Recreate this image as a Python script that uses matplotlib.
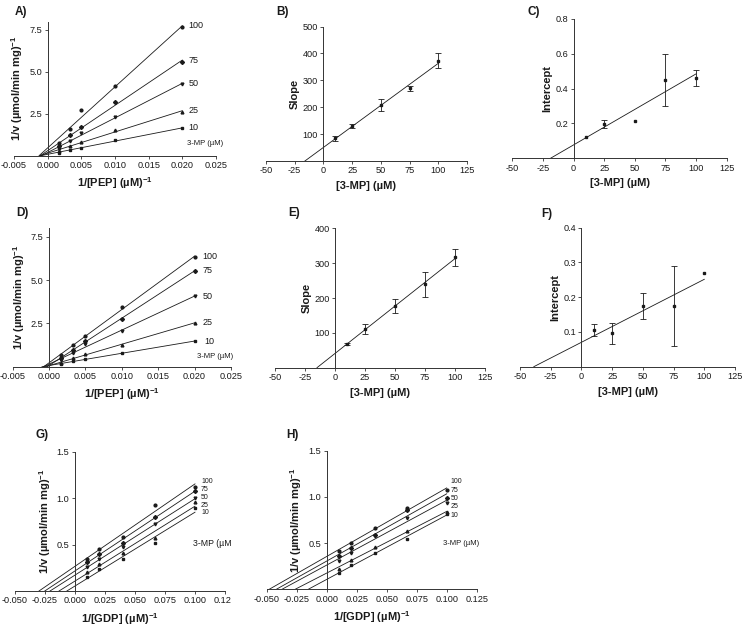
import numpy as np
import matplotlib.pyplot as plt
from matplotlib.transforms import Bbox, TransformedBbox

plt.rcParams['font.family'] = ['Liberation Sans', 'DejaVu Sans']
plt.rcParams['mathtext.fontset'] = 'custom'
plt.rcParams['mathtext.rm'] = 'Liberation Sans'
plt.rcParams['mathtext.bf'] = 'Liberation Sans:bold'
plt.rcParams['mathtext.it'] = 'Liberation Sans:italic'

# 3-MP concentrations (uM), top line first
mp_labels = ['100', '75', '50', '25', '10']
mp_x = [10, 25, 50, 75, 100]

# 1/[PEP] and 1/[GDP] (uM^-1)
pep_x = [1 / 600, 1 / 300, 1 / 200, 1 / 100, 1 / 50]
gdp_x = [1 / 100, 1 / 50, 1 / 25, 1 / 15, 1 / 10]

# panel A: 1/v rows for 100, 75, 50, 25, 10 uM 3-MP
inv_v_a = [[0.78, 1.57, 2.72, 4.18, 7.65],
           [0.58, 1.24, 1.69, 3.19, 5.61],
           [0.42, 0.88, 1.34, 2.29, 4.28],
           [0.28, 0.58, 0.80, 1.53, 2.63],
           [0.18, 0.34, 0.48, 0.94, 1.63]]

# panel D
inv_v_d = [[0.66, 1.25, 1.78, 3.43, 6.32],
           [0.52, 0.95, 1.50, 2.77, 5.54],
           [0.39, 0.78, 1.32, 2.04, 4.08],
           [0.23, 0.48, 0.75, 1.25, 2.54],
           [0.16, 0.33, 0.43, 0.77, 1.48]]

# panel G
inv_v_g = [[0.345, 0.455, 0.580, 0.930, 1.120],
           [0.317, 0.395, 0.522, 0.800, 1.080],
           [0.260, 0.345, 0.478, 0.720, 1.000],
           [0.205, 0.290, 0.414, 0.575, 0.960],
           [0.155, 0.235, 0.345, 0.520, 0.895]]

# panel H
inv_v_h = [[0.414, 0.500, 0.664, 0.879, 1.075],
           [0.357, 0.450, 0.593, 0.857, 0.993],
           [0.304, 0.393, 0.575, 0.771, 0.929],
           [0.225, 0.314, 0.457, 0.629, 0.832],
           [0.171, 0.261, 0.393, 0.539, 0.820]]

# replots (mean, error)
slope_b = [84, 130, 208, 270, 373]
slope_b_err = [10, 8, 22, 10, 27]
icpt_c = [0.121, 0.197, 0.214, 0.450, 0.463]
icpt_c_err = [0, 0.025, 0, 0.147, 0.046]
slope_e = [68, 111, 177, 239, 317]
slope_e_err = [4, 14, 19, 36, 25]
icpt_f = [0.1055, 0.096, 0.175, 0.175, 0.271]
icpt_f_err = [0.018, 0.031, 0.038, 0.114, 0]

markers = ['o', 'D', 'v', '^', 's']

W, H = 748, 632
fig = plt.figure(figsize=(W / 100, H / 100), dpi=100)

V_LABEL = '1/v (µmol/min mg)$^{\\mathbf{-1}}$'
MP_LABEL = '[3-MP] (µM)'
INK = '#1a1a1a'


def new_axes(x0, x1, ytop, ybot, xlim, ylim, xticks, yticks, xfmt, yfmt):
    ax = fig.add_axes([x0 / W, 1 - ybot / H, (x1 - x0) / W, (ybot - ytop) / H])
    ax.set_xlim(xlim)
    ax.set_ylim(ylim)
    ax.patch.set_alpha(0)
    ax.spines['top'].set_visible(False)
    ax.spines['right'].set_visible(False)
    ax.spines['left'].set_position(('data', 0))
    for s in ['left', 'bottom']:
        ax.spines[s].set_linewidth(0.7)
        ax.spines[s].set_color('#333333')
    ax.set_xticks(xticks)
    ax.set_xticklabels([xfmt % v for v in xticks])
    ax.set_yticks(yticks)
    ax.set_yticklabels([yfmt % v for v in yticks])
    ax.tick_params(direction='out', length=2.4, width=0.6, pad=1.5, labelsize=6.6,
                   color='#333333', labelcolor=INK)
    return ax


def double_recip(ax, xs, rows):
    ends = []
    for row, m in zip(rows, markers):
        ax.plot(xs, row, ls='none', marker=m, ms=2.0, color=INK, clip_on=False)
        k, b = np.polyfit(xs, row, 1)
        xx = np.array([-b / k, max(xs)])
        ax.plot(xx, k * xx + b, color=INK, lw=0.6)
        ends.append((xx[1], k * xx[1] + b))
    return ends


def replot(ax, ys, errs):
    ax.plot(mp_x, ys, ls='none', marker='s', ms=1.8, color=INK)
    for x, y, e in zip(mp_x, ys, errs):
        if e > 0:
            ax.errorbar([x], [y], yerr=[e], fmt='none', ecolor=INK,
                        elinewidth=0.6, capsize=2.2, capthick=0.6)
    k, b = np.polyfit(mp_x, ys, 1)
    xx = np.array([-b / k, max(mp_x)])
    ax.plot(xx, k * xx + b, color=INK, lw=0.6)


def panel_tag(x, y, txt):
    fig.text(x / W, 1 - y / H, txt, ha='left', va='center', fontsize=8.5, fontweight='bold', color=INK)


def bold_labels(ax, xl, yl, ypad=3):
    ax.set_xlabel(xl, fontsize=8, fontweight='bold', labelpad=4, color=INK)
    ax.set_ylabel(yl, fontsize=8, fontweight='bold', labelpad=ypad, color=INK)


pep_ticks = [-0.005, 0.0, 0.005, 0.010, 0.015, 0.020, 0.025]
mp_ticks = [-50, -25, 0, 25, 50, 75, 100, 125]
gdp_ticks = [-0.050, -0.025, 0.0, 0.025, 0.050, 0.075, 0.100, 0.125]

# A
ax = new_axes(14, 216, 21.6, 155.7, (-0.005, 0.025), (0, 8), pep_ticks, [2.5, 5.0, 7.5], '%.3f', '%.1f')
ends = double_recip(ax, pep_x, inv_v_a)
for (xe, ye), lab in zip(ends, mp_labels):
    ax.annotate(lab, (xe, ye), xytext=(6, 0), textcoords='offset pixels', fontsize=6.5, va='center', color=INK)
ax.annotate('3-MP (µM)', ends[-1], xytext=(5, -16), textcoords='offset pixels', fontsize=5.5, va='center', color=INK)
bold_labels(ax, '1/[PEP] (µM)$^{\\mathbf{-1}}$', V_LABEL)
panel_tag(15, 12, 'A)')

# B
ax = new_axes(266, 467, 26.5, 161, (-50, 125), (0, 500), mp_ticks, [100, 200, 300, 400, 500], '%d', '%d')
replot(ax, slope_b, slope_b_err)
bold_labels(ax, MP_LABEL, 'Slope', 2)
panel_tag(276, 12, 'B)')

# C
ax = new_axes(512.3, 726.7, 19, 158.3, (-50, 125), (0, 0.8), mp_ticks, [0.2, 0.4, 0.6, 0.8], '%d', '%.1f')
replot(ax, icpt_c, icpt_c_err)
bold_labels(ax, MP_LABEL, 'Intercept', 2)
panel_tag(527, 12, 'C)')

# D
ax = new_axes(12.7, 231, 228.1, 366.7, (-0.005, 0.025), (0, 8), pep_ticks, [2.5, 5.0, 7.5], '%.3f', '%.1f')
ends = double_recip(ax, pep_x, inv_v_d)
for i, ((xe, ye), lab) in enumerate(zip(ends, mp_labels)):
    ax.annotate(lab, (xe, ye), xytext=(10 if i == 4 else 8, 0), textcoords='offset pixels',
                fontsize=6.5, va='center', color=INK)
ax.annotate('3-MP (µM)', ends[-1], xytext=(2, -15), textcoords='offset pixels', fontsize=5.5, va='center', color=INK)
bold_labels(ax, '1/[PEP] (µM)$^{\\mathbf{-1}}$', V_LABEL)
panel_tag(16, 213, 'D)')

# E
ax = new_axes(275, 485, 228.3, 367.7, (-50, 125), (0, 400), mp_ticks, [100, 200, 300, 400], '%d', '%d')
replot(ax, slope_e, slope_e_err)
bold_labels(ax, MP_LABEL, 'Slope', 2)
panel_tag(288, 213, 'E)')

# F
ax = new_axes(520, 735, 227.7, 366.7, (-50, 125), (0, 0.4), mp_ticks, [0.1, 0.2, 0.3, 0.4], '%d', '%.1f')
replot(ax, icpt_f, icpt_f_err)
bold_labels(ax, MP_LABEL, 'Intercept', 2)
panel_tag(541, 214, 'F)')

# G
axg = new_axes(15, 225, 451.7, 591, (-0.05, 0.125), (0, 1.5), gdp_ticks, [0.5, 1.0, 1.5], '%.3f', '%.1f')
ends = double_recip(axg, gdp_x, inv_v_g)
for i, lab in enumerate(mp_labels):
    axg.annotate(lab, ends[0], xytext=(6, 2 - 7.75 * i), textcoords='offset pixels', fontsize=5, va='center', color=INK)
t = axg.annotate('3-MP (µM)', ends[0], xytext=(-2, -60), textcoords='offset pixels', fontsize=6.3, va='center', color=INK)
bold_labels(axg, '1/[GDP] (µM)$^{\\mathbf{-1}}$', V_LABEL)
panel_tag(36, 435, 'G)')
clip = TransformedBbox(Bbox([[0, 0], [231 / W, 1]]), fig.transFigure)
for txt in list(axg.get_xticklabels()) + [t]:
    txt.set_clip_box(clip)
    txt.set_clip_on(True)

# H
ax = new_axes(266.7, 476.7, 450.7, 589.3, (-0.05, 0.125), (0, 1.5), gdp_ticks, [0.5, 1.0, 1.5], '%.3f', '%.1f')
ends = double_recip(ax, gdp_x, inv_v_h)
for i, lab in enumerate(mp_labels):
    ax.annotate(lab, ends[0], xytext=(4, 6 - 8.3 * i), textcoords='offset pixels', fontsize=5, va='center', color=INK)
ax.annotate('3-MP (µM)', ends[0], xytext=(-4, -56), textcoords='offset pixels', fontsize=5.5, va='center', color=INK)
bold_labels(ax, '1/[GDP] (µM)$^{\\mathbf{-1}}$', V_LABEL)
panel_tag(286, 435, 'H)')

fig.savefig('out.png', dpi=100)
